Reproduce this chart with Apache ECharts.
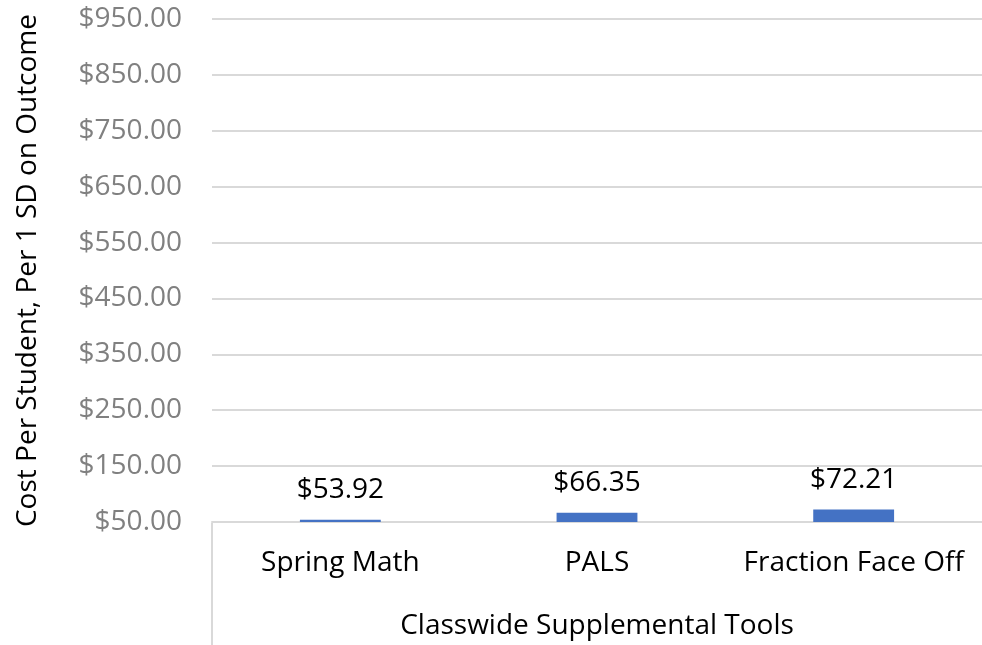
<!DOCTYPE html>
<html>
<head>
<meta charset="utf-8">
<title>Cost per student</title>
<style>
html, body { margin: 0; padding: 0; background: #fff; }
#chart { width: 982px; height: 645px; }
</style>
</head>
<body>
<div id="chart"></div>
<script src="https://cdn.jsdelivr.net/npm/echarts@6/dist/echarts.min.js"></script>
<script>
var categories = ['Spring Math', 'PALS', 'Fraction Face Off'];
var costs = [53.92, 66.35, 72.21];
var yMin = 50, yMax = 950, yStep = 100;

var money = function(v) { return '$' + v.toFixed(2); };
var font = 'Open Sans';

var chart = echarts.init(document.getElementById('chart'));
chart.setOption({
	animation: false,
	textStyle: { fontFamily: font },
	grid: { left: 212, right: 0, top: 19, bottom: 122 },
	xAxis: {
		type: 'category',
		data: categories,
		name: 'Classwide Supplemental Tools',
		nameLocation: 'middle',
		nameGap: 90,
		nameTextStyle: { color: '#000', fontSize: 28, fontFamily: font },
		axisLine: { lineStyle: { color: '#d9d9d9', width: 2 } },
		axisTick: { show: false },
		axisLabel: { color: '#000', fontSize: 28, margin: 27, interval: 0, fontFamily: font }
	},
	yAxis: {
		type: 'value',
		min: yMin, max: yMax, interval: yStep,
		name: 'Cost Per Student, Per 1 SD on Outcome',
		nameLocation: 'middle',
		nameGap: 170,
		nameTextStyle: { color: '#000', fontSize: 28, fontFamily: font },
		axisLine: { show: false },
		axisTick: { show: false },
		axisLabel: { color: '#808080', fontSize: 28, margin: 30, formatter: money, fontFamily: font },
		splitLine: { lineStyle: { color: '#d9d9d9', width: 2 } }
	},
	series: [{
		type: 'bar',
		data: costs,
		barWidth: '31.5%',
		itemStyle: { color: '#4472c4' },
		label: {
			show: true, position: 'top', distance: 16,
			color: '#000', fontSize: 28, fontFamily: font,
			formatter: function(p) { return money(p.value); }
		}
	}],
	graphic: [{
		type: 'line',
		shape: { x1: 212, y1: 523, x2: 212, y2: 645 },
		style: { stroke: '#d9d9d9', lineWidth: 2 }
	}]
});
</script>
</body>
</html>
